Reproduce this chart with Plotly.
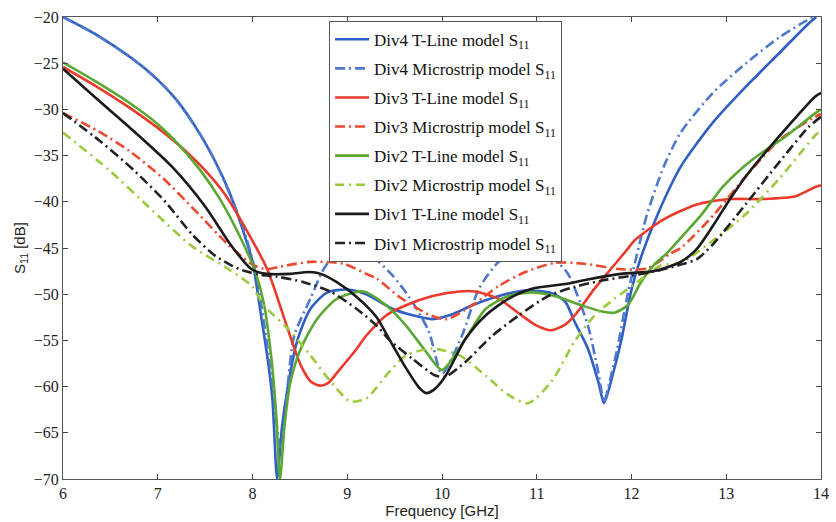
import plotly.graph_objects as go

# ---- Data ----
f_div4_tl = [6.0, 6.35, 6.73, 7.0, 7.2, 7.43, 7.6, 7.75, 7.88, 8.0, 8.09, 8.16, 8.21, 8.26, 8.31, 8.37, 8.47, 8.61, 8.79, 9.0, 9.2, 9.48, 9.7, 9.9, 10.1, 10.32, 10.6, 10.88, 11.16, 11.3, 11.4, 11.54, 11.65, 11.71, 11.8, 11.89, 12.0, 12.1, 12.27, 12.52, 12.86, 13.21, 13.56, 13.87, 13.95]
s_div4_tl = [-20.0, -21.9, -24.5, -26.8, -29.0, -32.4, -35.5, -38.8, -42.5, -46.5, -52.3, -57.0, -61.3, -70.0, -64.5, -60.2, -55.1, -51.6, -49.8, -49.5, -50.0, -51.6, -52.3, -52.7, -52.2, -51.2, -50.2, -49.6, -49.9, -50.8, -53.0, -55.9, -59.5, -61.8, -58.8, -55.1, -49.5, -46.0, -41.5, -36.2, -31.4, -27.5, -23.9, -20.7, -20.0]

f_div4_ms = [6.0, 6.35, 6.73, 7.0, 7.2, 7.43, 7.6, 7.75, 7.9, 8.03, 8.12, 8.2, 8.3, 8.37, 8.44, 8.61, 8.75, 8.86, 9.05, 9.25, 9.48, 9.66, 9.86, 10.0, 10.21, 10.39, 10.6, 10.84, 11.05, 11.19, 11.33, 11.54, 11.65, 11.71, 11.78, 11.85, 11.96, 12.05, 12.16, 12.34, 12.52, 12.86, 13.21, 13.56, 13.91]
s_div4_ms = [-20.0, -21.9, -24.5, -26.8, -29.0, -32.4, -35.5, -38.9, -42.8, -47.5, -53.0, -59.0, -67.0, -60.0, -54.5, -50.5, -47.3, -45.9, -45.3, -45.8, -48.0, -50.4, -54.0, -58.6, -54.5, -49.4, -46.5, -45.3, -45.6, -46.3, -47.8, -53.4, -58.5, -61.6, -59.0, -55.9, -50.0, -46.0, -41.5, -36.2, -32.5, -28.2, -25.0, -22.2, -20.0]

f_div3_tl = [6.0, 6.35, 6.7, 7.0, 7.25, 7.5, 7.71, 7.95, 8.16, 8.37, 8.51, 8.62, 8.72, 8.8, 8.9, 9.1, 9.2, 9.41, 9.62, 9.9, 10.18, 10.35, 10.6, 10.84, 11.0, 11.15, 11.3, 11.4, 11.61, 11.78, 11.96, 12.03, 12.34, 12.69, 13.04, 13.39, 13.73, 13.94, 14.0]
s_div3_tl = [-25.4, -27.5, -29.8, -32.0, -34.1, -36.6, -39.2, -43.3, -47.4, -53.7, -57.7, -59.5, -59.9, -59.6, -58.4, -55.9, -54.5, -52.3, -51.2, -50.2, -49.7, -49.7, -50.5, -52.3, -53.4, -53.9, -53.3, -52.3, -49.4, -47.3, -45.1, -44.2, -41.9, -40.3, -39.7, -39.7, -39.4, -38.4, -38.2]

f_div3_ms = [6.0, 6.38, 6.7, 7.05, 7.4, 7.75, 8.0, 8.15, 8.3, 8.61, 8.96, 9.2, 9.31, 9.55, 9.86, 10.05, 10.32, 10.6, 10.88, 11.2, 11.5, 11.89, 12.17, 12.41, 12.52, 12.86, 13.21, 13.56, 13.94, 14.0]
s_div3_ms = [-30.4, -32.4, -34.5, -37.4, -41.0, -44.7, -46.8, -47.3, -47.0, -46.5, -46.7, -47.8, -48.3, -50.3, -52.2, -52.7, -51.2, -49.1, -47.6, -46.6, -46.7, -47.3, -47.2, -45.6, -45.0, -41.5, -37.2, -33.3, -30.8, -30.5]

f_div2_tl = [6.0, 6.35, 6.73, 7.0, 7.22, 7.45, 7.65, 7.85, 8.02, 8.12, 8.2, 8.25, 8.29, 8.34, 8.4, 8.51, 8.68, 8.89, 9.17, 9.41, 9.62, 9.83, 10.0, 10.25, 10.46, 10.7, 10.95, 11.19, 11.47, 11.7, 11.82, 11.96, 12.1, 12.24, 12.38, 12.52, 12.73, 12.97, 13.28, 13.63, 13.94, 14.0]
s_div2_tl = [-24.9, -27.0, -29.5, -31.6, -33.8, -36.6, -39.6, -43.4, -47.3, -51.0, -57.0, -63.0, -70.0, -64.0, -59.5, -55.9, -52.7, -50.5, -49.7, -51.2, -53.4, -56.2, -58.2, -54.8, -51.6, -50.2, -49.8, -50.2, -51.2, -51.9, -52.0, -51.2, -48.7, -46.8, -45.5, -43.9, -41.5, -38.3, -35.4, -32.9, -30.4, -30.0]

f_div2_ms = [6.0, 6.49, 6.95, 7.36, 7.75, 7.99, 8.12, 8.37, 8.61, 8.82, 9.03, 9.2, 9.41, 9.62, 9.9, 10.18, 10.46, 10.7, 10.91, 11.16, 11.4, 11.61, 11.82, 12.06, 12.31, 12.52, 12.86, 13.21, 13.56, 13.94, 14.0]
s_div2_ms = [-32.5, -36.6, -41.0, -44.8, -47.3, -49.1, -51.2, -53.7, -56.6, -59.4, -61.6, -61.3, -58.8, -56.6, -55.9, -56.6, -58.8, -60.9, -61.8, -59.4, -55.1, -52.3, -50.5, -48.7, -46.9, -46.6, -44.2, -41.3, -37.5, -32.8, -32.3]

f_div1_tl = [6.0, 6.35, 6.73, 7.15, 7.5, 7.78, 7.99, 8.15, 8.4, 8.6, 8.72, 8.89, 9.1, 9.31, 9.45, 9.62, 9.75, 9.83, 9.92, 10.04, 10.25, 10.46, 10.7, 10.95, 11.3, 11.54, 11.89, 12.24, 12.52, 12.69, 12.86, 13.04, 13.21, 13.56, 13.94, 14.0]
s_div1_tl = [-25.6, -28.8, -32.2, -36.2, -40.5, -44.8, -47.3, -47.8, -47.8, -47.6, -47.8, -48.7, -50.3, -52.5, -55.0, -58.0, -60.0, -60.7, -60.3, -58.8, -54.8, -52.3, -50.5, -49.4, -48.9, -48.4, -47.8, -47.5, -46.5, -45.1, -42.6, -39.7, -37.2, -32.9, -28.6, -28.2]

f_div1_ms = [6.0, 6.4, 6.75, 7.08, 7.36, 7.6, 7.78, 7.92, 8.09, 8.26, 8.54, 8.82, 9.1, 9.31, 9.45, 9.69, 9.93, 10.04, 10.25, 10.53, 10.81, 11.12, 11.4, 11.7, 12.0, 12.3, 12.52, 12.69, 12.86, 13.21, 13.56, 13.87, 14.0]
s_div1_ms = [-30.4, -33.5, -36.6, -40.0, -43.5, -45.8, -46.9, -47.5, -47.9, -48.1, -48.7, -49.7, -51.6, -53.4, -55.0, -57.0, -58.8, -58.9, -57.3, -54.5, -52.3, -50.2, -49.2, -48.5, -48.0, -47.4, -46.8, -46.2, -44.6, -40.2, -35.7, -31.9, -30.8]

x_ticks = [6, 7, 8, 9, 10, 11, 12, 13, 14]
y_ticks = [-20, -25, -30, -35, -40, -45, -50, -55, -60, -65, -70]

DASHDOT = "10px,4px,2px,4px"
series = [
    ("Div4 T-Line model S<sub>11</sub>", f_div4_tl, s_div4_tl, "#2f5fc4", "solid"),
    ("Div4 Microstrip model S<sub>11</sub>", f_div4_ms, s_div4_ms, "#4f78cc", DASHDOT),
    ("Div3 T-Line model S<sub>11</sub>", f_div3_tl, s_div3_tl, "#ea3a2c", "solid"),
    ("Div3 Microstrip model S<sub>11</sub>", f_div3_ms, s_div3_ms, "#ec4a30", DASHDOT),
    ("Div2 T-Line model S<sub>11</sub>", f_div2_tl, s_div2_tl, "#5aa832", "solid"),
    ("Div2 Microstrip model S<sub>11</sub>", f_div2_ms, s_div2_ms, "#9cc93e", "9px,5px,2px,5px"),
    ("Div1 T-Line model S<sub>11</sub>", f_div1_tl, s_div1_tl, "#1a1a1a", "solid"),
    ("Div1 Microstrip model S<sub>11</sub>", f_div1_ms, s_div1_ms, "#222222", DASHDOT),
]

fig = go.Figure()
for i, (name, fx, sy, color, dash) in enumerate(series):
    fig.add_trace(go.Scatter(
        x=fx, y=sy, mode="lines", name=name,
        line=dict(color=color, width=2.6, dash=dash, shape="spline", smoothing=0.7),
        legendgroup=f"g{i}",
    ))

fig.update_layout(
    width=836, height=522,
    margin=dict(l=63, r=7, t=17, b=41),
    paper_bgcolor="white", plot_bgcolor="white",
    showlegend=True,
    legend=dict(
        x=0.351, y=0.992, xanchor="left", yanchor="top",
        bgcolor="white", bordercolor="#555", borderwidth=1,
        font=dict(family="Liberation Serif", size=17, color="#111"),
        traceorder="grouped", tracegroupgap=4,
        itemwidth=34,
    ),
)
fig.update_xaxes(
    range=[6, 14], tickvals=x_ticks, ticks="inside", ticklen=5,
    showline=True, linecolor="#555", linewidth=1, mirror="ticks",
    showgrid=False, zeroline=False,
    tickfont=dict(family="Liberation Serif", size=16, color="#222"),
    title=dict(text="Frequency [GHz]", font=dict(family="Liberation Sans", size=15, color="#222"), standoff=2),
)
fig.update_yaxes(
    range=[-70, -20], tickvals=y_ticks, ticks="inside", ticklen=5,
    showline=True, linecolor="#555", linewidth=1, mirror="ticks",
    showgrid=False, zeroline=False,
    tickfont=dict(family="Liberation Serif", size=16, color="#222"),
    title=dict(text="S<sub>11</sub> [dB]", font=dict(family="Liberation Sans", size=15, color="#222"), standoff=4),
)

fig.write_html("out.html")
